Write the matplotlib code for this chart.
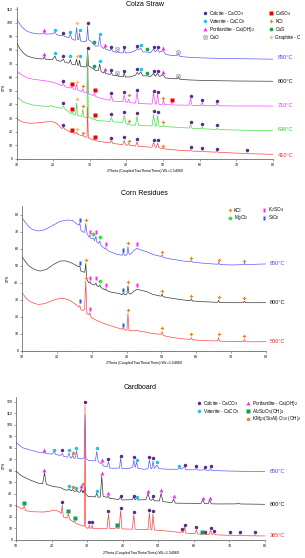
import matplotlib
matplotlib.use('Agg')
import matplotlib.pyplot as plt
import matplotlib.ticker as mticker

plt.rcParams['font.family'] = ['Liberation Sans', 'DejaVu Sans']

XLABEL = '2Theta (Coupled TwoTheta/Theta) WL=1.54060'

# ---------------- Colza Straw ----------------
colza_850 = [(10, 103), (11, 98.5), (12, 95.5), (13, 93.5), (14.5, 92.3), (16, 91.8), (17.3, 91.8), (17.6, 92.8),
             (17.9, 91.6), (19.8, 91.8), (20.5, 93.0), (20.9, 91.3), (22.0, 90.3), (22.8, 91.0), (23.2, 89.8),
             (24.3, 89.0), (24.7, 91.5), (25.1, 88.0), (26.0, 87.0), (26.4, 96.5), (26.7, 87.5), (27.0, 87.5),
             (27.2, 92.5), (27.5, 86.5), (28.9, 86.0), (29.15, 87.0), (29.4, 97.5), (29.65, 87.5), (30.4, 86.0),
             (31.0, 84.0), (31.2, 84.5), (31.5, 83.0), (32.3, 82.8), (32.7, 90.0), (33.1, 82.5), (33.8, 81.0),
             (34.1, 82.0), (34.4, 80.5), (35.6, 79.5), (35.9, 81.0), (36.2, 79.0), (37.3, 78.2), (37.5, 79.0),
             (37.8, 78.0), (39.1, 77.8), (39.4, 81.0), (39.7, 77.8), (41.0, 78.0), (42.5, 79.5), (42.9, 81.0),
             (43.4, 80.0), (43.9, 81.5), (44.5, 78.5), (45.6, 78.5), (46.6, 78.0), (47.4, 80.5), (47.9, 78.5),
             (48.5, 80.5), (49.0, 78.2), (50.0, 79.5), (50.6, 77.0), (52.0, 76.0), (53.7, 75.8), (54.1, 77.0),
             (54.6, 75.2), (57, 74.6), (60, 74.2), (65, 73.8), (70, 73.6), (75, 73.4), (80, 73.2)]
colza_800 = [(10, 85.5), (11, 80.5), (12, 77.5), (13, 75.5), (14.5, 74.2), (16, 73.5), (17.3, 73.4), (17.6, 75.0),
             (17.9, 73.2), (19.8, 73.0), (20.5, 75.5), (20.9, 72.6), (22.0, 71.6), (22.8, 73.2), (23.2, 71.0),
             (24.3, 70.3), (24.7, 72.8), (25.1, 69.5), (26.0, 69.0), (26.4, 73.2), (26.7, 68.8), (27.0, 68.8),
             (27.2, 72.5), (27.5, 68.0), (28.9, 67.5), (29.15, 68.5), (29.4, 79.5), (29.65, 68.5), (30.4, 67.0),
             (31.0, 65.8), (31.2, 66.3), (31.5, 65.0), (32.3, 64.8), (32.7, 69.5), (33.1, 64.0), (33.8, 63.2),
             (34.1, 64.2), (34.4, 62.6), (35.6, 62.0), (35.9, 63.6), (36.2, 61.5), (37.3, 61.0), (37.5, 61.8),
             (37.8, 60.6), (39.1, 60.3), (39.4, 63.2), (39.7, 60.2), (41.0, 60.2), (42.5, 61.5), (42.9, 63.5),
             (43.4, 62.0), (43.9, 64.0), (44.5, 61.0), (45.6, 61.0), (46.6, 60.5), (47.4, 62.8), (47.9, 60.8),
             (48.5, 62.8), (49.0, 60.5), (50.0, 61.8), (50.6, 59.5), (52.0, 59.0), (53.7, 58.8), (54.1, 59.8),
             (54.6, 58.4), (57, 58.0), (60, 57.7), (65, 57.4), (70, 57.2), (75, 57.1), (80, 57.0)]
colza_710 = [(10, 64.5), (11, 62.5), (12, 60.8), (13, 59.5), (14.5, 58.5), (16, 58.0), (18, 57.3), (19.5, 56.5),
             (20.5, 55.8), (21.5, 54.8), (22.4, 53.8), (22.8, 55.5), (23.2, 53.0), (24.8, 52.0), (25.2, 53.0),
             (25.5, 51.3), (26.1, 51.0), (26.4, 54.8), (26.7, 50.5), (27.8, 49.5), (28.1, 51.5), (28.4, 49.0),
             (29.1, 48.5), (29.25, 49.5), (29.4, 78.0), (29.6, 48.0), (30.5, 47.0), (31.0, 46.5), (31.3, 48.5),
             (31.6, 45.8), (33, 44.5), (35.5, 43.0), (35.9, 46.5), (36.3, 42.5), (39.0, 42.0), (39.4, 47.0),
             (39.8, 41.8), (40.3, 41.6), (40.6, 44.0), (40.9, 41.3), (42.5, 41.0), (42.9, 49.0), (43.3, 40.7),
             (47.0, 40.3), (47.4, 48.5), (47.9, 40.3), (48.2, 40.3), (48.5, 47.5), (48.9, 40.1), (49.8, 40.0),
             (50.1, 43.0), (50.4, 39.9), (52.1, 39.7), (52.4, 41.0), (52.7, 39.6), (57.1, 39.4), (57.5, 44.5),
             (57.9, 39.3), (60.4, 39.2), (60.7, 41.5), (61.0, 39.1), (64.4, 39.0), (64.7, 41.0), (65.0, 39.0),
             (70, 38.9), (80, 38.8)]
colza_630 = [(10, 45.7), (11, 43.5), (12, 41.5), (14.5, 39.6), (17, 38.8), (19.0, 38.6), (19.3, 39.3), (20, 38.4),
             (21.5, 37.8), (22.4, 37.2), (22.8, 38.8), (23.2, 36.8), (24.9, 33.0), (25.2, 34.5), (25.5, 32.6),
             (26.1, 32.2), (26.4, 41.0), (26.7, 31.8), (27.8, 31.3), (28.1, 36.5), (28.4, 30.8), (29.1, 30.3),
             (29.25, 31.0), (29.4, 80.0), (29.6, 30.8), (30.5, 29.8), (31.0, 29.0), (31.3, 30.0), (31.6, 28.5),
             (33, 28.0), (35.5, 27.5), (35.9, 30.5), (36.3, 27.2), (39.0, 26.8), (39.4, 32.0), (39.8, 26.6),
             (40.3, 25.2), (40.6, 26.2), (40.9, 25.0), (42.5, 24.8), (42.9, 31.5), (43.3, 24.6), (47.0, 24.2),
             (47.4, 32.5), (47.9, 24.1), (48.2, 24.1), (48.5, 31.8), (48.9, 24.0), (49.8, 23.9), (50.1, 24.8),
             (50.4, 23.8), (55, 23.0), (57.1, 22.7), (57.5, 25.0), (57.9, 22.5), (60.4, 22.2), (60.7, 23.3),
             (61.0, 22.1), (64.4, 21.7), (64.7, 22.6), (65.0, 21.6), (70, 21.2), (80, 20.7)]
colza_410 = [(10, 29.8), (11, 28.0), (12, 26.8), (14, 26.2), (16, 26.5), (18, 27.2), (19.5, 27.4), (20.5, 26.8),
             (21.5, 24.8), (22.4, 22.3), (22.8, 23.2), (23.2, 21.8), (24.8, 19.6), (25.2, 19.8), (25.5, 19.0),
             (26.1, 18.5), (26.4, 19.7), (26.7, 18.2), (27.8, 17.0), (28.1, 17.4), (28.4, 16.5), (29.1, 15.8),
             (29.25, 16.5), (29.4, 38.0), (29.6, 15.5), (30.5, 14.5), (31.0, 13.8), (31.3, 14.3), (31.6, 13.4),
             (33, 12.7), (35.5, 11.8), (35.9, 13.5), (36.3, 11.4), (39.0, 10.5), (39.4, 13.6), (39.8, 10.3),
             (40.3, 10.1), (40.6, 11.5), (40.9, 9.9), (42.5, 9.5), (42.9, 12.6), (43.3, 9.2), (47.0, 8.6),
             (47.4, 12.0), (47.9, 8.5), (48.2, 8.5), (48.5, 11.6), (48.9, 8.3), (49.8, 7.6), (50.1, 8.0),
             (50.4, 7.4), (55, 6.2), (57.1, 5.9), (57.5, 6.8), (57.9, 5.8), (60.4, 5.5), (60.7, 6.2), (61.0, 5.4),
             (64.4, 5.0), (64.7, 5.5), (65.0, 4.9), (70, 4.3), (72.7, 4.0), (73.0, 4.5), (73.3, 3.9), (80, 3.4)]

colza_850_marks = {
    'calcite': [(22.8, 92.6), (29.4, 99.5), (35.9, 82.5), (39.4, 82.5), (42.9, 83.0), (47.4, 82.0), (48.5, 82.0)],
    'vaterite': [(20.5, 94.8), (24.7, 93.2), (27.2, 94.3), (32.7, 92.0), (43.9, 83.5)],
    'portlandite': [(17.6, 94.3), (34.1, 83.8), (50.0, 81.3)],
    'cao': [(37.5, 80.6), (54.1, 78.5)],
    'cas': [(31.2, 86.0), (45.6, 80.5)],
    'graphite': [(26.4, 99.5)],
}
colza_800_marks = {
    'calcite': [(22.8, 75.3), (29.4, 81.6), (35.9, 65.4), (39.4, 64.9), (42.9, 65.7), (47.4, 64.6), (48.5, 64.6)],
    'vaterite': [(20.5, 77.8), (24.7, 75.5), (27.2, 75.5), (32.7, 71.6), (43.9, 66.2)],
    'portlandite': [(17.6, 77.2), (34.1, 65.9), (50.0, 63.8)],
    'cao': [(37.5, 63.4), (54.1, 61.0)],
    'cas': [(31.2, 68.0), (45.6, 63.3)],
    'graphite': [(26.4, 75.5)],
}
colza_710_marks = {
    'calcite': [(22.8, 57.4), (35.9, 48.4), (39.4, 48.8), (42.9, 50.8), (47.4, 50.2), (48.5, 49.2), (57.5, 46.4),
                (60.7, 43.0), (64.7, 42.4)],
    'caso4': [(25.2, 54.8), (31.3, 50.6), (52.4, 43.3)],
    'graphite': [(26.4, 56.6)],
    'kcl': [(28.1, 53.3), (40.6, 46.9), (50.1, 44.8)],
}
colza_630_marks = {
    'calcite': [(22.8, 41.3), (35.9, 33.0), (39.4, 34.7), (42.9, 34.0), (47.4, 35.4), (48.5, 34.7), (57.5, 27.2),
                (60.7, 25.6), (64.7, 25.2)],
    'caso4': [(25.2, 36.6), (31.3, 32.5)],
    'graphite': [(26.4, 43.8)],
    'kcl': [(28.1, 38.9), (40.6, 27.8), (50.1, 27.0)],
}
colza_410_marks = {
    'calcite': [(22.8, 24.8), (35.9, 15.4), (39.4, 15.8), (42.9, 14.6), (47.4, 14.0), (48.5, 13.6), (57.5, 8.6),
                (60.7, 7.9), (64.7, 7.3), (73.0, 6.8)],
    'caso4': [(25.2, 21.4), (31.3, 16.2)],
    'graphite': [(26.4, 21.9)],
    'kcl': [(28.1, 19.4), (40.6, 13.4), (50.1, 9.8)],
}

# ---------------- Corn Residues ----------------
corn_850 = [(10, 78.4), (11, 75.5), (12, 73.0), (13, 71.5), (14.7, 70.6), (16.5, 71.3), (18.5, 73.5), (20.9, 76.2),
            (23.0, 77.0), (24.5, 76.8), (25.5, 75.0), (26.3, 74.0), (26.6, 75.2), (26.9, 71.0), (27.5, 70.0),
            (28.0, 69.8), (28.3, 75.0), (28.6, 69.5), (29.2, 67.0), (29.5, 68.0), (29.8, 66.0), (30.5, 66.5),
            (30.8, 64.8), (31.2, 67.5), (31.5, 64.0), (32.0, 63.3), (32.3, 64.8), (32.7, 62.0), (33.7, 60.2),
            (34.0, 60.8), (34.3, 59.6), (35.2, 58.4), (37.2, 56.9), (38.7, 56.3), (39.1, 57.8), (39.4, 56.2),
            (40.1, 56.5), (40.4, 61.4), (40.7, 57.0), (41.2, 57.0), (42.0, 59.0), (43.0, 60.4), (44.0, 59.5),
            (45.8, 58.4), (47.5, 56.8), (49.9, 55.6), (50.2, 56.5), (50.5, 55.0), (53, 54.0), (56.3, 52.9),
            (58.4, 52.5), (58.6, 53.3), (58.9, 52.3), (62, 51.6), (66.2, 51.0), (66.4, 52.2), (66.7, 50.9),
            (70, 50.6), (73.6, 50.8), (73.8, 51.6), (74.1, 50.8), (77, 51.0), (80, 51.2)]
corn_800 = [(10, 55.5), (11, 52.5), (12, 50.0), (13.5, 48.0), (15.2, 47.0), (17, 48.0), (19, 50.8), (20.9, 52.9),
            (22.5, 53.0), (24.0, 52.0), (25.7, 50.2), (26.3, 49.5), (26.6, 50.0), (26.9, 47.0), (27.6, 46.5),
            (28.0, 46.3), (28.3, 51.5), (28.6, 42.0), (29.2, 40.0), (29.5, 40.8), (29.8, 39.5), (30.8, 38.8),
            (31.2, 40.0), (31.5, 38.3), (32.0, 37.8), (32.3, 38.8), (32.7, 37.3), (33.7, 36.0), (34.0, 36.6),
            (34.3, 35.6), (35.2, 34.8), (37.2, 34.0), (38.8, 33.2), (39.1, 34.0), (39.4, 33.1), (40.1, 33.5),
            (40.4, 38.4), (40.7, 33.8), (41.2, 33.5), (42.0, 35.0), (43.0, 36.3), (44.0, 35.8), (45.8, 34.9),
            (47.5, 33.3), (49.9, 32.2), (50.2, 33.5), (50.5, 31.9), (53, 31.0), (56.3, 30.0), (58.3, 29.6),
            (58.6, 30.6), (58.9, 29.4), (62, 29.0), (66.1, 28.6), (66.4, 29.8), (66.7, 28.5), (70, 28.4),
            (73.5, 28.4), (73.8, 29.3), (74.1, 28.4), (77, 28.4), (80, 28.4)]
corn_500 = [(10, 34.5), (11, 31.5), (12, 29.5), (13.5, 28.0), (14.7, 27.4), (16.5, 27.8), (18.5, 29.5), (20.5, 30.8),
            (21.9, 31.0), (23.5, 30.0), (25.0, 28.0), (25.7, 27.0), (26.3, 25.8), (26.6, 26.6), (26.9, 24.3),
            (27.6, 23.8), (27.95, 24.5), (28.3, 41.2), (28.6, 22.0), (29.2, 21.3), (29.5, 22.5), (29.8, 19.8),
            (31.0, 18.4), (33.3, 16.3), (35.5, 14.8), (37.2, 13.7), (38.8, 12.8), (39.1, 13.6), (39.4, 12.5),
            (40.1, 12.2), (40.4, 22.2), (40.7, 12.0), (41.5, 11.8), (42.8, 12.2), (44, 11.5), (45.8, 11.0),
            (47.5, 10.2), (49.9, 9.8), (50.2, 11.4), (50.5, 9.2), (51.5, 8.6), (53, 8.0), (56.3, 7.1), (58.3, 6.8),
            (58.6, 7.8), (58.9, 6.6), (62, 6.1), (66.1, 5.9), (66.4, 7.8), (66.7, 5.8), (70, 5.6), (73.5, 5.5),
            (73.8, 6.8), (74.1, 5.4), (77, 5.4), (80, 5.5)]

corn_850_marks = {
    'kcl': [(28.3, 77.0), (40.4, 63.7), (50.2, 58.0), (58.6, 54.8), (66.4, 53.8), (73.8, 53.0)],
    'sio2': [(26.6, 77.0), (39.1, 59.6)],
    'k2so4': [(29.5, 70.0), (31.2, 70.0), (34.0, 63.0), (43.0, 63.0)],
    'mgcl2': [(30.5, 68.8), (32.3, 67.3)],
}
corn_800_marks = {
    'kcl': [(28.3, 53.5), (40.4, 40.4), (50.2, 35.4), (58.6, 32.4), (66.4, 31.8), (73.8, 31.0)],
    'sio2': [(26.5, 52.0), (39.1, 36.0)],
    'k2so4': [(29.5, 43.0), (31.2, 42.7), (34.0, 38.6), (43.0, 38.6)],
    'mgcl2': [(32.3, 41.0)],
}
corn_500_marks = {
    'kcl': [(28.3, 42.9), (40.4, 24.0), (50.2, 13.5), (58.6, 9.7), (66.4, 9.7), (73.8, 8.7)],
    'sio2': [(26.6, 29.4), (39.1, 15.2)],
    'k2so4': [(29.5, 24.5)],
}

# ---------------- Cardboard ----------------
card_850 = [(10, 85.0), (11, 82.0), (12, 80.0), (13.9, 78.3), (16.7, 76.0), (17.7, 75.6), (18.0, 76.5), (18.3, 75.3),
            (20.0, 74.6), (20.8, 76.2), (21.2, 74.2), (22.6, 73.5), (23.0, 75.4), (23.4, 72.6), (24.5, 72.0),
            (24.9, 75.5), (25.3, 71.3), (25.6, 71.2), (25.9, 73.5), (26.3, 71.0), (26.7, 71.2), (27.0, 77.5),
            (27.4, 70.8), (28.5, 70.5), (29.15, 71.5), (29.4, 108.5), (29.65, 71.0), (30.4, 69.0), (32.3, 68.8),
            (32.7, 77.0), (33.1, 68.0), (33.8, 66.5), (34.1, 67.0), (34.5, 64.5), (35.6, 63.5), (36.0, 68.0),
            (36.4, 62.5), (37.5, 62.3), (39.1, 62.5), (39.4, 71.0), (39.8, 62.0), (42.0, 62.3), (42.8, 63.5),
            (43.1, 69.5), (43.5, 63.0), (43.9, 67.5), (44.3, 62.2), (46.0, 61.4), (47.1, 62.0), (47.5, 69.6),
            (47.9, 62.0), (48.2, 62.0), (48.5, 68.5), (48.9, 62.2), (49.6, 65.0), (50.2, 62.0), (52, 61.6),
            (54.2, 61.4), (55.5, 61.5), (55.8, 62.8), (56.4, 61.6), (57.4, 63.5), (57.8, 61.0), (60.3, 61.0),
            (60.7, 62.5), (61.1, 60.8), (62.6, 60.8), (63.0, 61.6), (63.4, 60.6), (64.4, 60.6), (64.7, 62.2),
            (65.0, 60.4), (70, 59.9), (75, 59.6), (80, 59.4)]
card_800 = [(10, 60.0), (11, 57.0), (12, 55.0), (13.9, 52.2), (16.3, 49.3), (17.5, 49.0), (18.0, 58.5), (18.5, 48.4),
            (20.5, 46.4), (22.3, 45.8), (23.8, 43.5), (24.5, 43.3), (24.9, 44.5), (25.3, 43.0), (25.6, 42.8),
            (25.9, 43.8), (26.3, 42.5), (26.7, 42.2), (27.0, 43.2), (27.4, 41.8), (28.0, 41.5), (28.4, 44.5),
            (28.7, 41.2), (28.9, 43.0), (29.1, 40.8), (29.4, 46.5), (29.6, 40.0), (30.3, 37.7), (32.3, 37.5),
            (32.7, 40.6), (33.1, 37.0), (33.7, 37.5), (34.1, 55.7), (34.5, 38.0), (35.6, 37.0), (35.9, 38.0),
            (36.3, 36.2), (38.8, 35.2), (39.4, 37.0), (39.8, 34.8), (42.6, 35.0), (43.1, 37.0), (43.5, 34.8),
            (43.9, 36.5), (44.3, 34.8), (46.5, 35.0), (47.1, 40.6), (47.6, 35.0), (48.1, 34.5), (48.5, 36.0),
            (48.9, 34.0), (50.3, 34.0), (50.8, 40.6), (51.3, 33.3), (53.8, 32.5), (54.3, 35.4), (54.8, 32.0),
            (58, 31.9), (62.0, 31.8), (62.5, 34.5), (63.0, 31.6), (64.0, 31.5), (64.4, 34.5), (64.9, 31.4),
            (68, 31.3), (72, 31.4), (72.5, 32.0), (73, 31.3), (80, 31.0)]
card_365 = [(10, 30.0), (11, 28.0), (11.9, 27.0), (12.3, 29.5), (12.7, 25.5), (14.9, 24.5), (17.7, 24.3), (19.5, 25.0),
            (20.5, 26.0), (21.5, 25.5), (22.4, 24.0), (22.7, 23.0), (23.0, 30.4), (23.3, 20.0), (24.3, 19.0),
            (24.7, 22.6), (25.1, 18.0), (26.2, 15.5), (26.5, 16.8), (26.8, 14.5), (28.5, 12.5), (29.1, 12.0),
            (29.25, 14.0), (29.4, 117.0), (29.6, 11.5), (30.1, 10.1), (30.4, 10.5), (30.6, 12.8), (30.9, 10.0),
            (31.2, 10.2), (31.4, 12.8), (31.7, 9.8), (34.5, 9.8), (35.6, 10.0), (36.0, 22.6), (36.4, 9.8),
            (37.8, 10.0), (38.3, 11.0), (38.7, 9.8), (39.0, 10.0), (39.4, 25.5), (39.8, 9.6), (42.7, 9.4),
            (43.1, 21.8), (43.5, 9.3), (47.1, 9.0), (47.5, 23.5), (47.9, 8.8), (48.2, 8.8), (48.5, 22.6),
            (48.9, 8.7), (53, 7.6), (56.3, 6.5), (56.6, 8.0), (56.9, 6.5), (57.1, 6.6), (57.4, 11.3), (57.8, 5.9),
            (60.3, 5.4), (60.7, 9.0), (61.1, 5.2), (62.0, 5.0), (62.3, 5.5), (62.7, 5.0), (63.0, 5.8), (63.3, 4.9),
            (64.3, 4.9), (64.7, 8.2), (65.1, 4.8), (65.6, 5.6), (66.0, 4.5), (70.0, 4.0), (70.2, 4.8), (70.5, 3.9),
            (72.7, 3.8), (72.9, 4.8), (73.2, 3.8), (77.0, 3.6), (77.2, 4.4), (77.5, 3.6), (80, 3.5)]

card_850_marks = {
    'calcite': [(23.0, 78.0), (36.0, 70.6), (39.4, 73.2), (43.1, 72.5), (47.5, 72.5), (48.5, 71.2), (57.4, 65.4),
                (60.7, 64.0), (63.0, 63.0), (64.7, 64.0)],
    'vaterite': [(20.8, 78.5), (24.9, 78.0), (27.0, 80.0), (32.7, 79.8), (43.9, 69.8), (49.6, 67.8), (55.8, 64.5)],
    'portlandite': [(18.0, 77.8), (34.1, 69.2)],
    'phlogopite': [(25.9, 76.0)],
}
card_800_marks = {
    'calcite': [(39.4, 38.5), (43.1, 38.5), (48.5, 37.9)],
    'vaterite': [(24.9, 46.6), (27.0, 45.4), (32.7, 43.0), (43.9, 37.6)],
    'portlandite': [(18.0, 61.0), (28.4, 47.2), (34.1, 58.0), (35.9, 40.5), (47.1, 43.0), (50.8, 43.5), (54.3, 38.3),
                    (62.5, 36.6), (64.4, 36.6)],
    'phlogopite': [(25.9, 46.0), (28.9, 48.6)],
}
card_365_marks = {
    'calcite': [(23.0, 33.3), (29.4, 120.3), (30.6, 15.2), (31.4, 15.2), (36.0, 24.8), (39.4, 27.7), (43.1, 24.0),
                (47.5, 25.7), (48.5, 24.8), (56.6, 9.5), (57.4, 13.2), (60.7, 11.2), (63.0, 7.2), (64.7, 10.3),
                (65.6, 7.4), (70.2, 6.8), (72.9, 6.8), (77.2, 6.6)],
    'kaolinite': [(12.3, 32.5), (24.7, 25.5), (26.5, 19.0), (38.3, 12.6), (62.2, 7.0)],
}

# marker looks per phase
rect = [(-0.5, -1), (0.5, -1), (0.5, 1), (-0.5, 1)]
STYLE = {
    'calcite': dict(marker='o', color='#5a2a8a', ms=2.5),
    'vaterite': dict(marker='o', color='#12c8ea', ms=2.5),
    'portlandite': dict(marker='^', color='#ff22ff', ms=2.8),
    'cao': dict(marker=r'$\boxtimes$', color='#707070', ms=2.8),
    'caso4': dict(marker='s', color='#ee0000', ms=2.5),
    'kcl': dict(marker='P', color='#f5841f', ms=2.5),
    'cas': dict(marker='o', color='#10a848', ms=2.7),
    'graphite': dict(marker='P', color='#ffbe5c', ms=2.7),
    'sio2': dict(marker=rect, color='#1f5fe0', ms=2.9),
    'k2so4': dict(marker=rect, color='#ff22ff', ms=2.9),
    'mgcl2': dict(marker='o', color='#2ee82e', ms=2.7),
    'kaolinite': dict(marker='s', color='#10a050', ms=2.5),
    'phlogopite': dict(marker='o', color='#d8893a', ms=2.5),
}

C850, C800, CMAG, CGRN, CRED = '#5c5cff', '#3a3a3a', '#ff44ff', '#44e044', '#ff4444'
L850, L800, LMAG, LGRN, LRED = '#3f3fff', '#111111', '#ff22ff', '#22c822', '#ff2020'


def setup(ax, ymax, title, title_y, ylabel_pos, xlabel_y):
    ax.set_xlim(10, 80)
    ax.set_ylim(0, ymax)
    for s in ('top', 'right'):
        ax.spines[s].set_visible(False)
    for s in ('left', 'bottom'):
        ax.spines[s].set_linewidth(0.5)
        ax.spines[s].set_color('#555555')
    ax.xaxis.set_major_locator(mticker.MultipleLocator(10))
    ax.xaxis.set_minor_locator(mticker.MultipleLocator(1))
    ax.yaxis.set_major_locator(mticker.MultipleLocator(10))
    ax.tick_params(which='major', labelsize=2.6, length=1.6, width=0.4, pad=1, color='#555555')
    ax.tick_params(which='minor', length=0.8, width=0.3, color='#555555')
    ax.text(0.5, title_y, title, transform=ax.transAxes, ha='center', va='center', fontsize=5)
    ax.text(ylabel_pos[0], ylabel_pos[1], 'CPS', transform=ax.transAxes, rotation=90,
            ha='center', va='center', fontsize=2.6)
    ax.text(0.5, xlabel_y, XLABEL, transform=ax.transAxes, ha='center', va='center', fontsize=2.6)


def curve(ax, pts, color):
    xs, ys = zip(*pts)
    ax.plot(xs, ys, color=color, lw=0.5)


def marks(ax, groups):
    for phase, pts in groups.items():
        xs, ys = zip(*pts)
        ax.plot(xs, ys, ls='none', mec='none', clip_on=False, **STYLE[phase])


def temp_label(ax, fx, y, text, color):
    ax.text(fx, y, text, transform=ax.get_yaxis_transform(), ha='left', va='center',
            fontsize=4.0, color=color)


def legend(ax, entries):
    # entries: (phase, label, fx_marker, fy)
    for phase, label, fx, fy in entries:
        ax.plot([fx], [fy], ls='none', mec='none', transform=ax.transAxes, clip_on=False, **STYLE[phase])
        ax.text(fx + 0.017, fy, label, transform=ax.transAxes, ha='left', va='center', fontsize=3.3)


fig = plt.figure(figsize=(3.05, 5.58), dpi=100)

# --- panel 1
ax1 = fig.add_axes([0.0541, 0.7151, 0.841, 0.2724])
setup(ax1, 111.5, 'Colza Straw', 1.013, (-0.049, 0.47), -0.079)
for pts, col in ((colza_850, C850), (colza_800, C800), (colza_710, CMAG), (colza_630, CGRN), (colza_410, CRED)):
    curve(ax1, pts, col)
for g in (colza_850_marks, colza_800_marks, colza_710_marks, colza_630_marks, colza_410_marks):
    marks(ax1, g)
for y, t, c in ((74.8, '850°C', L850), (56.7, '800°C', L800), (39.0, '710°C', LMAG),
                (21.3, '630°C', LGRN), (2.9, '410°C', LRED)):
    temp_label(ax1, 1.02, y, t, c)
legend(ax1, [
    ('calcite', 'Calcite - CaCO$_3$', 0.735, 0.959),
    ('vaterite', 'Vaterite - CaCO$_3$', 0.735, 0.906),
    ('portlandite', 'Portlandite - Ca(OH)$_2$', 0.735, 0.853),
    ('cao', 'CaO', 0.735, 0.800),
    ('caso4', 'CaSO$_4$', 0.992, 0.959),
    ('kcl', 'KCl', 0.992, 0.906),
    ('cas', 'CaS', 0.992, 0.853),
    ('graphite', 'Graphite - C', 0.992, 0.800),
])

# --- panel 2
ax2 = fig.add_axes([0.0721, 0.3710, 0.800, 0.2599])
setup(ax2, 85.3, 'Corn Residues', 1.083, (-0.057, 0.5), -0.083)
for pts, col in ((corn_850, C850), (corn_800, C800), (corn_500, CRED)):
    curve(ax2, pts, col)
for g in (corn_850_marks, corn_800_marks, corn_500_marks):
    marks(ax2, g)
for y, t, c in ((51.6, '850°C', L850), (28.4, '800°C', L800), (5.5, '500°C', LRED)):
    temp_label(ax2, 1.016, y, t, c)
legend(ax2, [
    ('kcl', 'KCl', 0.852, 0.972),
    ('mgcl2', 'MgCl$_2$', 0.852, 0.919),
    ('k2so4', 'K$_2$SO$_4$', 0.993, 0.972),
    ('sio2', 'SiO$_2$', 0.993, 0.919),
])

# --- panel 3
ax3 = fig.add_axes([0.0525, 0.0323, 0.8164, 0.2563])
setup(ax3, 124.3, 'Cardboard', 1.063, (-0.048, 0.52), -0.091)
for pts, col in ((card_850, C850), (card_800, C800), (card_365, CRED)):
    curve(ax3, pts, col)
for g in (card_850_marks, card_800_marks, card_365_marks):
    marks(ax3, g)
for y, t, c in ((59.4, '850°C', L850), (31.0, '800°C', L800), (3.5, '365°C', LRED)):
    temp_label(ax3, 1.02, y, t, c)
legend(ax3, [
    ('calcite', 'Calcite - CaCO$_3$', 0.735, 0.955),
    ('vaterite', 'Vaterite - CaCO$_3$', 0.735, 0.899),
    ('portlandite', 'Portlandite - Ca(OH)$_2$', 0.930, 0.955),
    ('kaolinite', 'Al$_2$Si$_2$O$_5$(OH)$_4$', 0.930, 0.899),
    ('phlogopite', 'KMg$_3$(Si$_3$Al) O$_{10}$ (OH)$_2$', 0.930, 0.846),
])

fig.savefig('out.png', dpi=100)
